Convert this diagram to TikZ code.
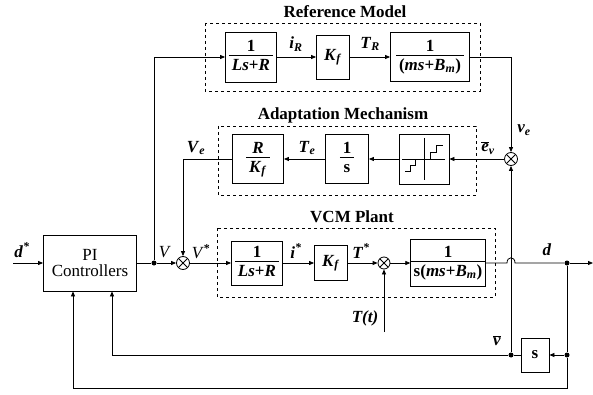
\documentclass[tikz,border=0pt]{standalone}
\usepackage{fontspec}
\setmainfont{Liberation Serif}
\usetikzlibrary{arrows.meta,calc}
\newcommand{\mb}[1]{\textbf{\textit{#1}}}
\newcommand{\fr}[2]{\begin{tabular}{@{\hspace{3pt}}c@{\hspace{3pt}}}#1\\[-2pt]\hline\rule{0pt}{15pt}#2\end{tabular}}
\begin{document}
\begin{tikzpicture}[x=1pt,y=-1pt,
  every node/.style={font=\fontsize{17}{19}\selectfont},
  blk/.style={draw,thick,inner sep=0pt,align=center},
  grp/.style={draw,dashed,thick},
  sumj/.style={draw,thick,circle,minimum size=13pt,inner sep=0pt,path picture={
     \draw ([shift={(-45:6.5pt)}]path picture bounding box.center) -- ([shift={(135:6.5pt)}]path picture bounding box.center);
     \draw ([shift={(45:6.5pt)}]path picture bounding box.center) -- ([shift={(-135:6.5pt)}]path picture bounding box.center);}},
  dot/.style={circle,fill,inner sep=0pt,minimum size=5pt},
  arr/.style={-{Triangle[length=5pt,width=4pt]}},
  lbl/.style={inner sep=1pt},
  ttl/.style={font=\fontsize{17}{19}\selectfont\bfseries},
  thick]
\useasboundingbox (0,0) rectangle (593,395);

% Reference model
\draw[grp] (205,23) rectangle (480,91);
\node[ttl] (rmt) at (345,12) {Reference Model};
\node[blk,minimum width=51pt,minimum height=50pt] (rm1) at (251,57) {\fr{\textbf{1}}{\mb{Ls}\textbf{+}\mb{R}}};
\node[blk,minimum width=33pt,minimum height=44pt] (rm2) at (333,57) {\mb{K}\textsubscript{\mb{f}}};
\node[blk,minimum width=79pt,minimum height=49pt] (rm3) at (430,57) {\fr{\textbf{1}}{\textbf{(}\mb{ms}\textbf{+}\mb{B}\textsubscript{\mb{m}}\textbf{)}}};

% Adaptation mechanism
\draw[grp] (218,126) rectangle (476,195);
\node[ttl] (amt) at (343,115) {Adaptation Mechanism};
\node[blk,minimum width=51pt,minimum height=49pt] (am1) at (258,159) {\fr{\mb{R}}{\mb{K}\textsubscript{\mb{f}}}};
\node[blk,minimum width=43pt,minimum height=49pt] (am2) at (347,159) {\fr{\textbf{1}}{\textbf{s}}};
\node[blk,minimum width=50pt,minimum height=50pt] (am3) at (424,159) {};
\begin{scope}[shift={(am3.center)},thin]
  \draw (0,-21) -- (0,21);
  \draw (-22,0) -- (21,0);
  \draw (-19,12) -- (-14,12) -- (-14,6) -- (-9,6) -- (-9,1);
  \draw (6,1) -- (6,-7) -- (12,-7) -- (12,-14) -- (19,-14);
\end{scope}
\node[sumj] (sv) at (511,159) {};

% VCM plant
\draw[grp] (217,228) rectangle (495,297);
\node[ttl] (vct) at (352,217) {VCM Plant};
\node[blk,minimum width=51pt,minimum height=44pt] (p1) at (257,263) {\fr{\textbf{1}}{\mb{Ls}\textbf{+}\mb{R}}};
\node[blk,minimum width=33pt,minimum height=35pt] (p2) at (331,263) {\mb{K}\textsubscript{\mb{f}}};
\node[sumj,minimum size=12pt] (s2) at (384,263) {};
\node[blk,minimum width=74pt,minimum height=47pt] (p3) at (448,263) {\fr{\textbf{1}}{\textbf{s(}\mb{ms}\textbf{+}\mb{B}\textsubscript{\mb{m}}\textbf{)}}};

% PI controllers
\node[blk,minimum width=93pt,minimum height=56pt] (pi) at (90,263) {PI\\[-3pt]Controllers};
\node[sumj] (s1) at (183,263) {};
\node[blk,minimum width=28pt,minimum height=34pt,font=\fontsize{17}{19}\selectfont\bfseries] (sb) at (535,355) {s};

% coordinates
\coordinate (din) at (13,263);
\node[dot] (jV) at (154,263) {};
\coordinate (jVt) at (154,57);
\coordinate (rmc) at (511,57);
\coordinate (vec) at (183,159);
\coordinate (tin) at (384,332);
\node[dot] (jd) at (567,263) {};
\coordinate (dout) at (593,263);
\node[dot] (js) at (567,355) {};
\node[dot] (jv) at (511,355) {};
\coordinate (bot) at (567,388);
\coordinate (ja) at (507,263);
\coordinate (jb) at (515,263);

% connectors
\draw[arr] (din) -- (pi.west);
\draw (pi.east) -- (jV);
\draw[arr] (jV) -- (s1.west);
\draw[arr] (jV) -- (jVt) -- (rm1.west);
\draw[arr] (rm1) -- (rm2);
\draw[arr] (rm2) -- (rm3);
\draw[arr] (rm3.east) -- (rmc) -- (sv.north);
\draw[arr] (sv.west) -- (am3.east);
\draw[arr] (am3) -- (am2);
\draw[arr] (am2) -- (am1);
\draw[arr] (am1.west) -- (vec) -- (s1.north);
\draw[arr] (s1) -- (p1);
\draw[arr] (p1) -- (p2);
\draw[arr] (p2) -- (s2);
\draw[arr] (tin) -- (s2.south);
\draw[arr] (s2) -- (p3);
\draw (p3.east) -- (ja) .. controls (507,256) and (515,256) .. (jb) -- (jd);
\draw[arr] (jd) -- (dout);
\draw (jd) -- (js);
\draw[arr] (js) -- (sb.east);
\draw (sb.west) -- (jv);
\draw[arr] (jv) -- (sv.south);
\draw[arr] (jv) -| ([xshift=22pt]pi.south);
\draw[arr] (js) -- (bot) -| ([xshift=-17pt]pi.south);

% labels
\node[lbl] at (22,250) {\mb{d}\textsuperscript{\mb{*}}};
\node[lbl] at (165,252) {\textit{V}};
\node[lbl] at (201,252) {\textit{V}\textsuperscript{\textbf{*}}};
\node[lbl] at (296,44) {\mb{i}\textsubscript{\mb{R}}};
\node[lbl] at (370,44) {\mb{T}\textsubscript{\mb{R}}};
\node[lbl] at (524,130) {\mb{v}\textsubscript{\mb{e}}};
\node[lbl] at (488,148) {$\overline{\mbox{\mb{e}}}$\textsubscript{\mb{v}}};
\node[lbl] at (307,148) {\mb{T}\textsubscript{\mb{e}}};
\node[lbl] at (196,148) {\mb{V}\textsubscript{\mb{e}}};
\node[lbl] at (296,251) {\mb{i}\textsuperscript{\mb{*}}};
\node[lbl] at (361,251) {\mb{T}\textsuperscript{\mb{*}}};
\node[lbl] at (365,318) {\mb{T(t)}};
\node[lbl] at (547,250) {\mb{d}};
\node[lbl] at (497,341) {$\overline{\mbox{\mb{v}}}$};
\end{tikzpicture}
\end{document}
